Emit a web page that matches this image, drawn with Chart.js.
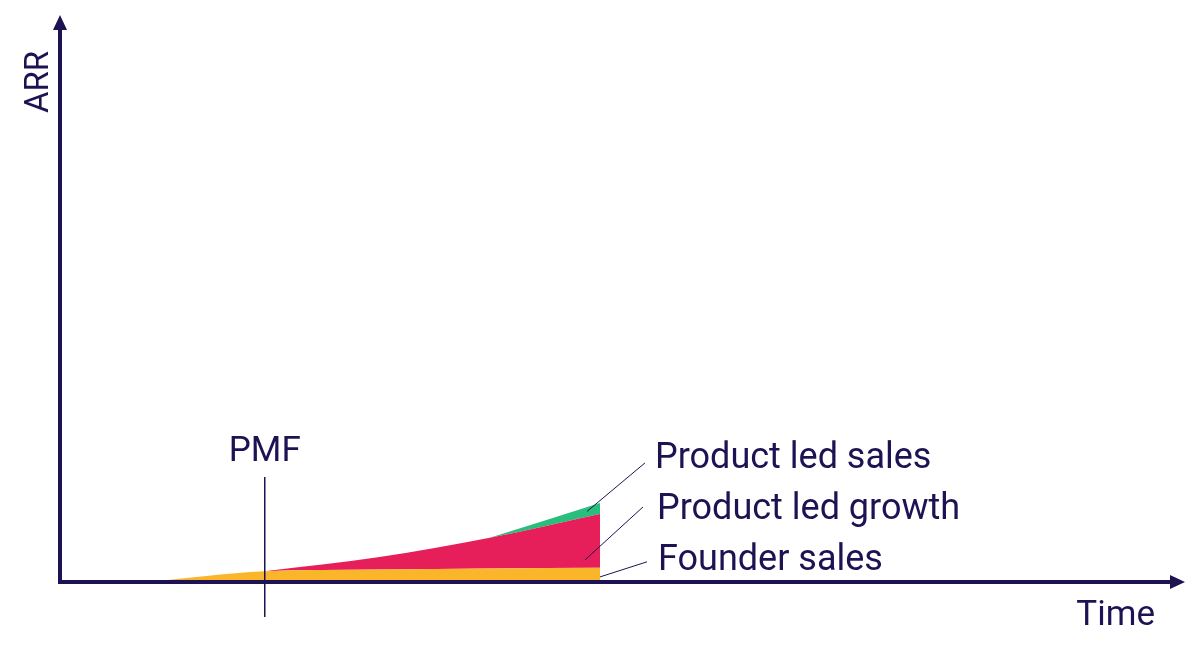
<!DOCTYPE html>
<html>
<head>
<meta charset="utf-8">
<script src="https://cdn.jsdelivr.net/npm/chart.js@4/dist/chart.umd.min.js"></script>
<style>
html,body{margin:0;padding:0;background:#fff;}
#wrap{width:1200px;height:657px;position:relative;}
</style>
</head>
<body>
<div id="wrap"><canvas id="c" width="1200" height="657"></canvas></div>
<script>
// time points (arbitrary units)
const time = [7.8, 18.2, 28.4, 38.2, 48];
// layer thicknesses (ARR, arbitrary units)
const founderSales = [0, 1.9, 2.2, 2.4, 2.5];
const productLedGrowth = [null, 0, 2.2, 5.4, 9.5];
const productLedSales = [null, null, null, 0, 1.95];
const seriesNames = ['Founder sales', 'Product led growth', 'Product led sales'];
const pmfTime = 18.2;
const axisTitles = {x: 'Time', y: 'ARR'};

const NAVY = '#1d1252';
const COLORS = ['#fbb52a', '#e61e5a', '#28bf7d'];
const FONT = 'Roboto, "Noto Sans", sans-serif';

function pts(vals){ return time.map((t,i)=>({x:t,y:vals[i]})); }

const decor = {
  id:'decor',
  afterDatasetsDraw(chart){
    const {ctx, chartArea:a, scales:{x,y}} = chart;
    ctx.save();
    // axes
    ctx.strokeStyle = NAVY; ctx.fillStyle = NAVY;
    ctx.lineWidth = 4; ctx.lineCap = 'butt';
    const ox = x.getPixelForValue(0), oy = y.getPixelForValue(0);
    ctx.beginPath(); ctx.moveTo(ox, oy+2); ctx.lineTo(ox, a.top+12); ctx.stroke();
    ctx.beginPath(); ctx.moveTo(ox-2, oy); ctx.lineTo(a.right-12, oy); ctx.stroke();
    // arrowheads
    ctx.beginPath(); ctx.moveTo(ox, a.top); ctx.lineTo(ox-7, a.top+15); ctx.lineTo(ox+7, a.top+15); ctx.closePath(); ctx.fill();
    ctx.beginPath(); ctx.moveTo(a.right, oy); ctx.lineTo(a.right-15, oy-7); ctx.lineTo(a.right-15, oy+7); ctx.closePath(); ctx.fill();
    // PMF line
    const px = x.getPixelForValue(pmfTime);
    ctx.lineWidth = 1.5;
    ctx.beginPath(); ctx.moveTo(px, oy-105); ctx.lineTo(px, oy+35); ctx.stroke();
    ctx.font = '35px ' + FONT;
    ctx.textAlign = 'center'; ctx.textBaseline = 'alphabetic';
    ctx.fillText('PMF', px, oy-121);
    // axis titles
    ctx.textAlign = 'right';
    ctx.fillText(axisTitles.x, a.right-30, oy+43);
    ctx.save();
    ctx.font = '33px ' + FONT;
    ctx.translate(ox-12, a.top+98);
    ctx.rotate(-Math.PI/2);
    ctx.textAlign = 'left';
    ctx.fillText(axisTitles.y, 0, 0);
    ctx.restore();
    // series labels with leader lines
    ctx.font = '36px ' + FONT;
    const last = time.length-1;
    const tx = x.getPixelForValue(time[last]);
    const y0 = y.getPixelForValue(founderSales[last]);
    const y1 = y.getPixelForValue(founderSales[last]+productLedGrowth[last]);
    const y2 = y.getPixelForValue(founderSales[last]+productLedGrowth[last]+productLedSales[last]);
    const labels = [
      {name:seriesNames[2], from:[tx-13, (y1+y2)/2+3], to:[tx+45, y2-40], text:[tx+55, y2-35]},
      {name:seriesNames[1], from:[tx-15, (y0+y1)/2+19], to:[tx+43, y1-7], text:[tx+57, y1+5]},
      {name:seriesNames[0], from:[tx, (y0+oy)/2+2], to:[tx+47, y0-6], text:[tx+58, y0+2]},
    ];
    ctx.lineWidth = 1;
    ctx.textAlign = 'left';
    labels.forEach(l=>{
      ctx.beginPath(); ctx.moveTo(l.from[0], l.from[1]); ctx.lineTo(l.to[0], l.to[1]); ctx.stroke();
      ctx.fillText(l.name, l.text[0], l.text[1]);
    });
    ctx.restore();
  }
};

new Chart(document.getElementById('c'), {
  type:'line',
  data:{
    datasets:[
      {label:seriesNames[0], data:pts(founderSales), backgroundColor:COLORS[0], borderWidth:0, fill:'origin', pointRadius:0, cubicInterpolationMode:'monotone'},
      {label:seriesNames[1], data:pts(productLedGrowth), backgroundColor:COLORS[1], borderWidth:0, fill:'-1', pointRadius:0, cubicInterpolationMode:'monotone'},
      {label:seriesNames[2], data:pts(productLedSales), backgroundColor:COLORS[2], borderWidth:0, fill:'-1', pointRadius:0, cubicInterpolationMode:'monotone'},
    ]
  },
  options:{
    responsive:false, animation:false,
    layout:{padding:{left:60, right:15, top:15, bottom:75}},
    plugins:{legend:{display:false}, tooltip:{enabled:false}},
    scales:{
      x:{type:'linear', min:0, max:100, display:false},
      y:{type:'linear', min:0, max:100, display:false, stacked:true}
    }
  },
  plugins:[decor]
});
</script>
</body>
</html>
